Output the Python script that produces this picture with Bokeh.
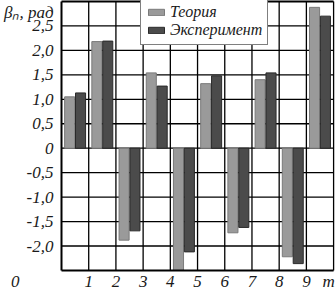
from bokeh.plotting import figure
from bokeh.models import Range1d, FixedTicker, Legend, LegendItem, ColumnDataSource
from bokeh.core.properties import value
from bokeh.embed import file_html
from bokeh.resources import INLINE

groups = [0, 1, 2, 3, 4, 5, 6, 7, 8, 9]
theory = [1.05, 2.18, -1.88, 1.54, -2.5, 1.32, -1.73, 1.40, -2.22, 2.88]
experiment = [1.13, 2.19, -1.69, 1.27, -2.12, 1.48, -1.62, 1.54, -2.36, 2.70]
series_names = ["Теория", "Эксперимент"]
y_ticks = [-2.0, -1.5, -1.0, -0.5, 0.0, 0.5, 1.0, 1.5, 2.0, 2.5]
y_tick_labels = ["-2,0", "-1,5", "-1,0", "-0,5", "0", "0,5", "1,0", "1,5", "2,0", "2,5"]
y_title = "β\u2099, рад"
x_ticks = [1, 2, 3, 4, 5, 6, 7, 8, 9]
x_tick_labels = ["1", "2", "3", "4", "5", "6", "7", "8", "9"]
x_origin_label = "0"
x_title = "m"
x_grid = [1, 2, 3, 4, 5, 6, 7, 8, 9, 10]
y_grid = [-2.0, -1.5, -1.0, -0.5, 0.0, 0.5, 1.0, 1.5, 2.0, 2.5]
x_min, x_max = 0.0, 10.0
y_min, y_max = -2.5, 3.0

SERIF = "Liberation Serif"
TXT = "#1a1a1a"
NBSP = "\u00a0"

# the frame reaches down to the canvas edge so the x tick labels can be drawn
# below the value axis (y < -2.5) inside the plot area
p = figure(width=335, height=291, output_backend="svg", toolbar_location=None,
           x_axis_location=None,
           x_range=Range1d(x_min, 10.07), y_range=Range1d(-2.93, 3.02),
           min_border_left=60, min_border_right=0, min_border_top=0, min_border_bottom=0)
p.background_fill_color = "white"
p.border_fill_color = "white"
p.outline_line_color = None
p.grid.visible = False

# thin grid, limited to the plotting box
nx, ny = len(x_grid), len(y_grid)
p.segment(x0=x_grid, x1=x_grid, y0=[y_min] * nx, y1=[y_max] * nx,
          line_color="black", line_width=1.3, level="underlay")
p.segment(x0=[x_min] * ny, x1=[x_max] * ny, y0=y_grid, y1=y_grid,
          line_color="black", line_width=1.3, level="underlay")

src = ColumnDataSource(dict(xt=[g + 0.3 for g in groups], xe=[g + 0.7 for g in groups],
                            theory=theory, experiment=experiment))
r1 = p.vbar(x="xt", top="theory", bottom=0, width=0.37, source=src,
            fill_color="#9a9a9a", line_color="#7a7a7a", line_width=1)
r2 = p.vbar(x="xe", top="experiment", bottom=0, width=0.37, source=src,
            fill_color="#4b4b4b", line_color="#2a2a2a", line_width=1)

# axis lines / frame border (over the bars)
p.segment(x0=[x_min, x_min, x_min], x1=[x_max, x_max, x_min],
          y0=[y_min, y_max, y_min], y1=[y_min, y_max, y_max],
          line_color="black", line_width=2, level="overlay")

# value axis: tick labels, the y title above the top tick and the origin "0" below
y_title_pos = 2.78
x_label_row = -2.73
yt = y_ticks + [y_title_pos, x_label_row]
yl = y_tick_labels + [y_title, x_origin_label + NBSP * 8]
ax = p.yaxis[0]
ax.ticker = FixedTicker(ticks=yt)
ax.major_label_overrides = {t: l for t, l in zip(yt, yl)}
ax.axis_line_color = None
ax.major_tick_line_color = None
ax.minor_tick_line_color = None
ax.major_tick_out = 0
ax.major_tick_in = 0
ax.minor_tick_out = 0
ax.major_label_text_font = SERIF
ax.major_label_text_font_style = "italic"
ax.major_label_text_font_size = "17px"
ax.major_label_text_color = TXT
ax.major_label_standoff = 8

# category tick labels along the bottom
xs = x_ticks + [9.82]
xl = x_tick_labels + [x_title]
p.text(x=xs, y=[x_label_row] * len(xs), text=xl, text_font=value(SERIF),
       text_font_style="italic", text_font_size="17px", text_color=TXT,
       text_align="center", text_baseline="middle")

legend = Legend(items=[LegendItem(label=series_names[0], renderers=[r1]),
                       LegendItem(label=series_names[1], renderers=[r2])],
                location=(79, 246))
legend.label_text_font = SERIF
legend.label_text_font_style = "italic"
legend.label_text_font_size = "16px"
legend.label_text_color = TXT
legend.glyph_width = 20
legend.glyph_height = 8
legend.label_height = 12
legend.label_standoff = 4
legend.spacing = 0
legend.padding = 5
legend.margin = 0
legend.border_line_color = "black"
legend.border_line_width = 1.5
legend.background_fill_color = "white"
legend.background_fill_alpha = 1.0
p.add_layout(legend, "center")

open("out.html", "w").write(file_html(p, INLINE))
